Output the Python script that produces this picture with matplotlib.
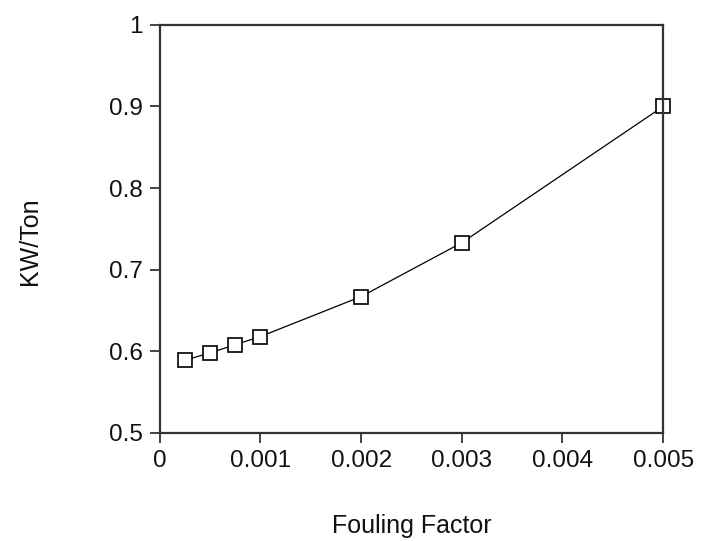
import matplotlib.pyplot as plt

plt.rcParams['font.family'] = ['Liberation Sans', 'DejaVu Sans']

# данные с графика
fouling_factor = [0.00025, 0.0005, 0.00075, 0.001, 0.002, 0.003, 0.005]
kw_per_ton = [0.589, 0.598, 0.608, 0.618, 0.667, 0.733, 0.900]
x_ticks = [0, 0.001, 0.002, 0.003, 0.004, 0.005]
x_tick_labels = ['0', '0.001', '0.002', '0.003', '0.004', '0.005']
y_ticks = [0.5, 0.6, 0.7, 0.8, 0.9, 1.0]
y_tick_labels = ['0.5', '0.6', '0.7', '0.8', '0.9', '1']

fig = plt.figure(figsize=(7.01, 5.41), dpi=100)
ax = fig.add_axes([0.228, 0.2, 0.718, 0.754])

ax.plot(fouling_factor, kw_per_ton, color='black', linewidth=0.9,
        marker='s', markersize=9.5, markerfacecolor='white',
        markeredgecolor='black', markeredgewidth=1.2, clip_on=False)

ax.set_xlim(0, 0.005)
ax.set_ylim(0.5, 1.0)
ax.set_xticks(x_ticks)
ax.set_xticklabels(x_tick_labels)
ax.set_yticks(y_ticks)
ax.set_yticklabels(y_tick_labels)
ax.tick_params(direction='out', length=7.5, width=1.2, labelsize=17.5,
               colors='#222222', labelcolor='#111111', pad=5)

for s in ax.spines.values():
    s.set_linewidth(1.6)
    s.set_color('#333333')

ax.set_xlabel('Fouling Factor', fontsize=18, color='#111111')
ax.set_ylabel('KW/Ton', fontsize=18, color='#111111')
ax.xaxis.set_label_coords(0.5, -0.2)
ax.yaxis.set_label_coords(-0.235, 0.47)

fig.savefig('out.png', dpi=100)
